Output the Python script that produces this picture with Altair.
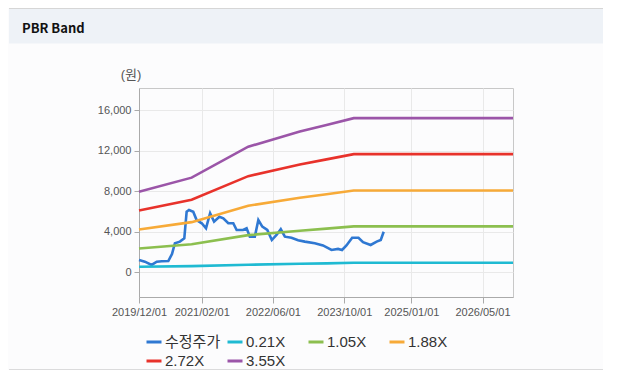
import altair as alt
import pandas as pd

# ---- data ----
price_dates = ["2019-12-01", "2020-01-10", "2020-02-25", "2020-03-31", "2020-05-05", "2020-06-18",
               "2020-07-13", "2020-08-02", "2020-09-05", "2020-10-05", "2020-10-21", "2020-11-06",
               "2020-12-05", "2020-12-28", "2021-02-01", "2021-03-02", "2021-03-30", "2021-04-26",
               "2021-06-01", "2021-06-28", "2021-08-01", "2021-09-04", "2021-09-27", "2021-11-10",
               "2021-12-04", "2021-12-26", "2022-01-29", "2022-02-22", "2022-03-21", "2022-04-24",
               "2022-05-25", "2022-06-26", "2022-07-25", "2022-08-22", "2022-10-06", "2022-11-20",
               "2023-01-05", "2023-03-14", "2023-05-09", "2023-07-06", "2023-08-20", "2023-09-16",
               "2023-10-16", "2023-11-24", "2024-01-06", "2024-02-06", "2024-03-29", "2024-05-09",
               "2024-06-06", "2024-06-26"]
price = [1210, 1045, 720, 1045, 1080, 1110, 1800, 2860, 3020, 3350,
         5970, 6140, 5970, 5150, 4830, 4340, 5820, 4990, 5480, 5320,
         4830, 4830, 4170, 4170, 4340, 3510, 3510, 5150, 4500, 4170,
         3180, 3680, 4240, 3510, 3400, 3150, 3020, 2860, 2650, 2200,
         2300, 2200, 2640, 3400, 3400, 2970, 2690, 3020, 3180, 4000]

band_dates = ["2019-12-01", "2020-11-24", "2021-12-15", "2022-12-02", "2023-06-02", "2023-12-05", "2026-11-25"]
band_021 = [540, 600, 740, 840, 880, 940, 940]
band_105 = [2350, 2760, 3660, 4100, 4300, 4520, 4520]
band_188 = [4210, 4940, 6560, 7340, 7690, 8060, 8060]
band_272 = [6080, 7150, 9480, 10630, 11130, 11650, 11650]
band_355 = [7950, 9330, 12380, 13870, 14520, 15200, 15200]

series_names = ["수정주가", "0.21X", "1.05X", "1.88X", "2.72X", "3.55X"]
series_colors = ["#2f78d2", "#1fbad2", "#8cbf4f", "#f7aa38", "#e8322b", "#9b55a8"]

y_ticks = [0, 4000, 8000, 12000, 16000]
x_ticks = [(2019, 12), (2021, 2), (2022, 6), (2023, 10), (2025, 1), (2026, 5)]

# ---- build long table ----
rows = []
for d, v in zip(price_dates, price):
    rows.append({"date": d + "T00:00:00", "value": v, "series": series_names[0]})
for name, vals in zip(series_names[1:], [band_021, band_105, band_188, band_272, band_355]):
    for d, v in zip(band_dates, vals):
        rows.append({"date": d + "T00:00:00", "value": v, "series": name})
df = pd.DataFrame(rows)

FONT = "Liberation Sans, Arial, Noto Sans CJK KR, sans-serif"
one = pd.DataFrame({"k": [0]})

W, H = 374, 209
RIGHT_EDGE = 464  # plot-coordinate x of the svg's right edge

# header decoration (in plot coordinates, outside the plot area)
header_bg = alt.Chart(one).mark_rect(color="#eef2f7").encode(
    x=alt.value(-130), x2=alt.value(RIGHT_EDGE), y=alt.value(-80), y2=alt.value(-44.5))
top_line = alt.Chart(one).mark_rule(color="#d6d6d6", strokeWidth=1).encode(
    x=alt.value(-130), x2=alt.value(RIGHT_EDGE), y=alt.value(-79.5))
bottom_line = alt.Chart(one).mark_rule(color="#d0d0d0", strokeWidth=1.5).encode(
    x=alt.value(-130), x2=alt.value(RIGHT_EDGE), y=alt.value(282))
title_txt = alt.Chart(one).mark_text(
    text="PBR Band", font="Noto Sans CJK KR, Liberation Sans, sans-serif", fontSize=13,
    fontWeight="bold", color="#111111",
    align="left", baseline="alphabetic").encode(x=alt.value(-117), y=alt.value(-55))
unit_txt = alt.Chart(one).mark_text(
    text="(원)", font=FONT, fontSize=13, color="#555555",
    align="center", baseline="middle").encode(x=alt.value(-8), y=alt.value(-13))

color_scale = alt.Scale(domain=series_names, range=series_colors)

lines = alt.Chart(df).mark_line(strokeWidth=2.6, strokeCap="butt").encode(
    x=alt.X("date:T",
            scale=alt.Scale(domain=[alt.DateTime(year=2019, month=12, date=1),
                                    alt.DateTime(year=2026, month=11, date=25)], nice=False),
            axis=alt.Axis(title=None, format="%Y/%m/%d",
                          values=[alt.DateTime(year=y, month=m, date=1) for y, m in x_ticks],
                          labelFontSize=11, labelColor="#555555", labelFont=FONT,
                          tickSize=6, tickColor="#aaaaaa", labelPadding=3,
                          domainColor="#aaaaaa", gridColor="#e9e9e9", labelOverlap=False,
                          labelFlush=False)),
    y=alt.Y("value:Q",
            scale=alt.Scale(domain=[-2440, 18170], nice=False, zero=False),
            axis=alt.Axis(title=None, values=y_ticks, format=",.0f",
                          labelFontSize=11, labelColor="#555555", labelFont=FONT,
                          tickSize=5, tickColor="#aaaaaa", labelPadding=3,
                          domainColor="#aaaaaa", gridColor="#e9e9e9")),
    color=alt.Color("series:N", scale=color_scale, sort=series_names,
                    legend=alt.Legend(title=None, orient="none", legendX=6, legendY=245,
                                      direction="horizontal", columns=4, gridAlign="all",
                                      symbolType="stroke", symbolSize=225, symbolStrokeWidth=3,
                                      labelFontSize=15, labelFont=FONT, labelColor="#333333",
                                      labelOffset=2, columnPadding=0, rowPadding=2,
                                      padding=0, labelLimit=200)),
    order=alt.Order("date:T"),
)

chart = alt.layer(header_bg, top_line, bottom_line, title_txt, unit_txt, lines).properties(
    width=W, height=H,
    autosize=alt.AutoSizeParams(type="none"),
    padding={"left": 131, "top": 80, "right": RIGHT_EDGE - W, "bottom": 73},
    background="#fcfcfd",
).configure_view(stroke="#c8c8c8", strokeWidth=1)

chart.save("out.html", embed_options={"renderer": "svg", "actions": False})
